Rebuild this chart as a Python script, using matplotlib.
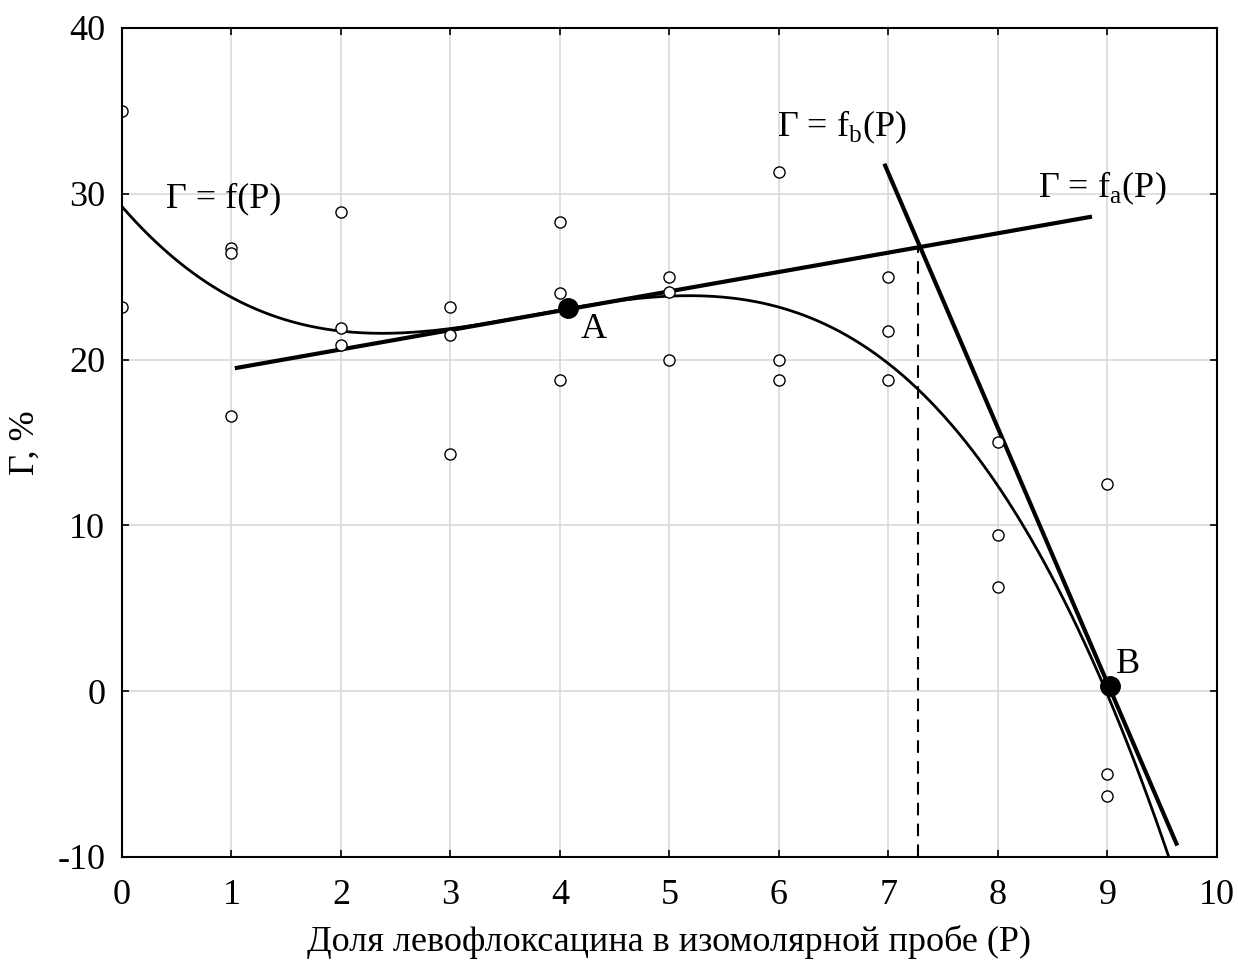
import numpy as np
import matplotlib.pyplot as plt

plt.rcParams['font.family'] = ['Liberation Serif', 'DejaVu Serif']
plt.rcParams['axes.unicode_minus'] = False

# experimental points
p = [0, 0, 1, 1, 1, 2, 2, 2, 3, 3, 3, 4, 4, 4, 5, 5, 5, 6, 6, 6, 7, 7, 7, 8, 8, 8, 9, 9, 9]
g = [35.0, 23.2, 26.7, 26.4, 16.6, 28.9, 21.9, 20.9, 23.2, 21.5, 14.3,
     28.3, 24.0, 18.75, 25.0, 24.1, 20.0, 31.3, 20.0, 18.75, 25.0, 21.7, 18.75,
     15.0, 9.4, 6.3, 12.5, -5.0, -6.3]

# tangent points A, B and tangent line ends
pt_a = (4.07, 23.1)
pt_b = (9.02, 0.3)
fa_x = [1.05, 8.84]
fa_y = [19.5, 28.6]
fb_x = [6.97, 9.63]
fb_y = [31.7, -9.2]
p_cross = 7.27
g_cross = 26.8

# cubic fit  Γ = f(P)
coef = np.polyfit(p, g, 3)
xs = np.linspace(0, 9.6, 300)
ys = np.polyval(coef, xs)

fig = plt.figure(figsize=(12.38, 9.65), dpi=100)
ax = fig.add_axes([0.0985, 0.112, 0.8845, 0.859])

ax.grid(True, color='#d9d9d9', linewidth=1.2)
ax.set_axisbelow(True)

ax.plot(xs, ys, color='black', linewidth=2)
ax.plot(fa_x, fa_y, color='black', linewidth=3)
ax.plot(fb_x, fb_y, color='black', linewidth=3)
ax.plot([p_cross, p_cross], [-10, g_cross], color='black', linewidth=1.5, linestyle=(0, (6, 4)))

ax.plot(p, g, 'o', markersize=8, markerfacecolor='white', markeredgecolor='black', markeredgewidth=1)
ax.plot([pt_a[0], pt_b[0]], [pt_a[1], pt_b[1]], 'o', markersize=14, color='black')

fs = 26
ax.text(pt_a[0] + 0.12, pt_a[1] - 0.3, 'A', fontsize=fs, va='top', ha='left')
ax.text(pt_b[0] + 0.06, pt_b[1] + 0.3, 'B', fontsize=fs, va='bottom', ha='left')
ax.text(0.4, 29.7, 'Γ = f(P)', fontsize=fs, va='center', ha='left')
ax.text(5.98, 34.0, 'Γ = f$_\\mathregular{b}$(P)', fontsize=fs, va='center', ha='left')
ax.text(8.37, 30.3, 'Γ = f$_\\mathregular{a}$(P)', fontsize=fs, va='center', ha='left')

ax.set_xlim(0, 10)
ax.set_ylim(-10, 40)
ax.set_xticks(range(0, 11))
ax.set_yticks(range(-10, 41, 10))
ax.tick_params(direction='in', length=5, width=1.2, top=True, right=True, labelsize=fs)
ax.tick_params(axis='x', pad=16)
ax.tick_params(axis='y', pad=12)
for s in ax.spines.values():
    s.set_linewidth(1.5)

ax.set_xlabel('Доля левофлоксацина в изомолярной пробе (P)', fontsize=fs, labelpad=9)
ax.set_ylabel('Γ, %', fontsize=fs, labelpad=11)

plt.savefig('out.png', dpi=100)
